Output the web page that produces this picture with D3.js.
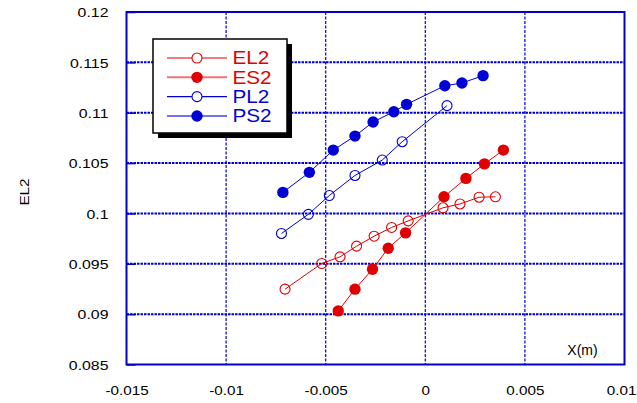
<!DOCTYPE html>
<html>
<head>
<meta charset="utf-8">
<script src="https://cdn.jsdelivr.net/npm/d3@7"></script>
<style>
  html, body { margin: 0; padding: 0; background: #fff; }
  svg { display: block; }
  text { font-family: "Liberation Sans", Arial, sans-serif; }
</style>
</head>
<body>
<svg id="chart" width="637" height="403"></svg>
<script>
// Axis ticks
const xTicks = [-0.015, -0.01, -0.005, 0, 0.005, 0.01];
const xTickLabels = ["-0.015", "-0.01", "-0.005", "0", "0.005", "0.01"];
const yTicks = [0.085, 0.09, 0.095, 0.1, 0.105, 0.11, 0.115, 0.12];
const yTickLabels = ["0.085", "0.09", "0.095", "0.1", "0.105", "0.11", "0.115", "0.12"];

// Series: X(m) positions and EL2 values
const el2X = [-0.00704, -0.00520, -0.00428, -0.00345, -0.00257, -0.00169, -0.00086, 0.00089, 0.00174, 0.00270, 0.00352];
const el2Y = [0.09248, 0.09503, 0.09569, 0.09675, 0.09774, 0.09861, 0.09926, 0.10056, 0.10094, 0.10161, 0.10165];

const es2X = [-0.00437, -0.00353, -0.00265, -0.00186, -0.00099, 0.00094, 0.00204, 0.00297, 0.00392];
const es2Y = [0.09032, 0.09248, 0.09446, 0.09655, 0.09807, 0.10165, 0.10348, 0.10492, 0.10629];

const pl2X = [-0.00722, -0.00587, -0.00482, -0.00353, -0.00216, -0.00116, 0.00109];
const pl2Y = [0.09801, 0.09991, 0.10178, 0.10377, 0.10530, 0.10712, 0.11070];

const ps2X = [-0.00715, -0.00582, -0.00462, -0.00353, -0.00262, -0.00158, -0.00094, 0.00098, 0.00184, 0.00290];
const ps2Y = [0.10209, 0.10408, 0.10629, 0.10768, 0.10908, 0.11010, 0.11083, 0.11268, 0.11295, 0.11368];

const seriesNames = ["EL2", "ES2", "PL2", "PS2"];

const RED = "#e00000";
const BLUE = "#0000d4";
const FRAME = "#0000cc";

const series = [
  { name: seriesNames[0], xs: el2X, ys: el2Y, color: RED, filled: false },
  { name: seriesNames[1], xs: es2X, ys: es2Y, color: RED, filled: true },
  { name: seriesNames[2], xs: pl2X, ys: pl2Y, color: BLUE, filled: false },
  { name: seriesNames[3], xs: ps2X, ys: ps2Y, color: BLUE, filled: true }
];

const W = 637;
const L = 126.5, R = 624.5, T = 12, B = 364.5;
const x = d3.scaleLinear().domain([-0.015, 0.01]).range([L, R]);
const y = d3.scaleLinear().domain([0.085, 0.12]).range([B, T]);

const svg = d3.select("#chart");

// Grid
const grid = svg.append("g");
grid.selectAll("line.h").data(yTicks.slice(1, -1)).join("line")
  .attr("x1", L).attr("x2", R)
  .attr("y1", d => y(d)).attr("y2", d => y(d))
  .attr("stroke", FRAME).attr("stroke-width", 2)
  .attr("stroke-dasharray", "2.5,1");
grid.selectAll("line.v").data(xTicks.slice(1, -1)).join("line")
  .attr("y1", T).attr("y2", B)
  .attr("x1", d => x(d)).attr("x2", d => x(d))
  .attr("stroke", FRAME).attr("stroke-width", 1.2)
  .attr("stroke-dasharray", "3,1.5");

// Axes
const STRETCH = 1.22;
const yAxis = svg.append("g").attr("transform", `translate(${L},0)`)
  .call(d3.axisLeft(y).tickValues(yTicks).tickFormat((d, i) => yTickLabels[i]).tickSize(-9).tickPadding(0));
yAxis.select(".domain").remove();
yAxis.selectAll(".tick line").attr("stroke", FRAME).attr("stroke-width", 1.5);
yAxis.selectAll(".tick text")
  .attr("fill", "#000").attr("font-size", 13)
  .attr("x", -18 / STRETCH).attr("dy", "0.36em")
  .attr("transform", `scale(${STRETCH},1)`)
  .attr("font-family", "Liberation Sans, Arial, sans-serif");

const xAxis = svg.append("g").attr("transform", `translate(0,${B})`)
  .call(d3.axisBottom(x).tickValues(xTicks).tickFormat((d, i) => xTickLabels[i]).tickSize(0).tickPadding(0));
xAxis.select(".domain").remove();
xAxis.selectAll(".tick text")
  .attr("fill", "#000").attr("font-size", 12.5)
  .attr("y", 31).attr("dy", 0)
  .attr("transform", `scale(${STRETCH},1)`)
  .attr("font-family", "Liberation Sans, Arial, sans-serif");
// keep the last label inside the page edge
xAxis.selectAll(".tick text").filter((d, i) => i === xTicks.length - 1)
  .attr("text-anchor", "end")
  .attr("x", (W - 1 - x(xTicks[xTicks.length - 1])) / STRETCH);

// Frame
svg.append("rect")
  .attr("x", L).attr("y", T).attr("width", R - L).attr("height", B - T)
  .attr("fill", "none").attr("stroke", FRAME).attr("stroke-width", 2);

// Axis titles
svg.append("text")
  .attr("transform", "translate(29,192) rotate(-90)")
  .attr("text-anchor", "middle")
  .attr("font-size", 12)
  .attr("textLength", 27)
  .attr("lengthAdjust", "spacingAndGlyphs")
  .attr("fill", "#000")
  .text("EL2");

svg.append("text")
  .attr("x", 582.5).attr("y", 355)
  .attr("text-anchor", "middle")
  .attr("font-size", 14)
  .attr("fill", "#000")
  .text("X(m)");

// Series lines and markers
const line = d3.line().x(d => x(d[0])).y(d => y(d[1]));
series.forEach(s => {
  const pts = s.xs.map((v, i) => [v, s.ys[i]]);
  const g = svg.append("g");
  g.append("path").datum(pts)
    .attr("d", line)
    .attr("fill", "none")
    .attr("stroke", s.color)
    .attr("stroke-width", 1);
  g.selectAll("circle").data(pts).join("circle")
    .attr("cx", d => x(d[0])).attr("cy", d => y(d[1]))
    .attr("r", s.filled ? 5.7 : 5)
    .attr("fill", s.filled ? s.color : "none")
    .attr("stroke", s.color)
    .attr("stroke-width", s.filled ? 0 : 1.1);
});

// Legend
const lg = svg.append("g");
const box = { x: 153, y: 39, w: 134, h: 94 };
lg.append("rect")
  .attr("x", box.x + 5).attr("y", box.y + 5).attr("width", box.w).attr("height", box.h)
  .attr("fill", "#000");
lg.append("rect")
  .attr("x", box.x).attr("y", box.y).attr("width", box.w).attr("height", box.h)
  .attr("fill", "#fff").attr("stroke", "#000").attr("stroke-width", 1.5);

const rowY = d3.scalePoint().domain(seriesNames).range([58, 116]);
series.forEach(s => {
  const ry = rowY(s.name);
  lg.append("line")
    .attr("x1", 167).attr("x2", 227).attr("y1", ry).attr("y2", ry)
    .attr("stroke", s.color)
    .attr("stroke-width", s.filled ? 2 : 1.2)
    .attr("stroke-opacity", s.filled ? 0.55 : 1);
  lg.append("circle")
    .attr("cx", 197).attr("cy", ry)
    .attr("r", s.filled ? 5.7 : 5)
    .attr("fill", s.filled ? s.color : "#fff")
    .attr("stroke", s.color)
    .attr("stroke-width", s.filled ? 0 : 1.1);
  lg.append("text")
    .attr("transform", `translate(232.5,${ry + 6.3}) scale(1.17,1)`)
    .attr("font-size", 17.7)
    .attr("fill", s.color)
    .text(s.name);
});
</script>
</body>
</html>
